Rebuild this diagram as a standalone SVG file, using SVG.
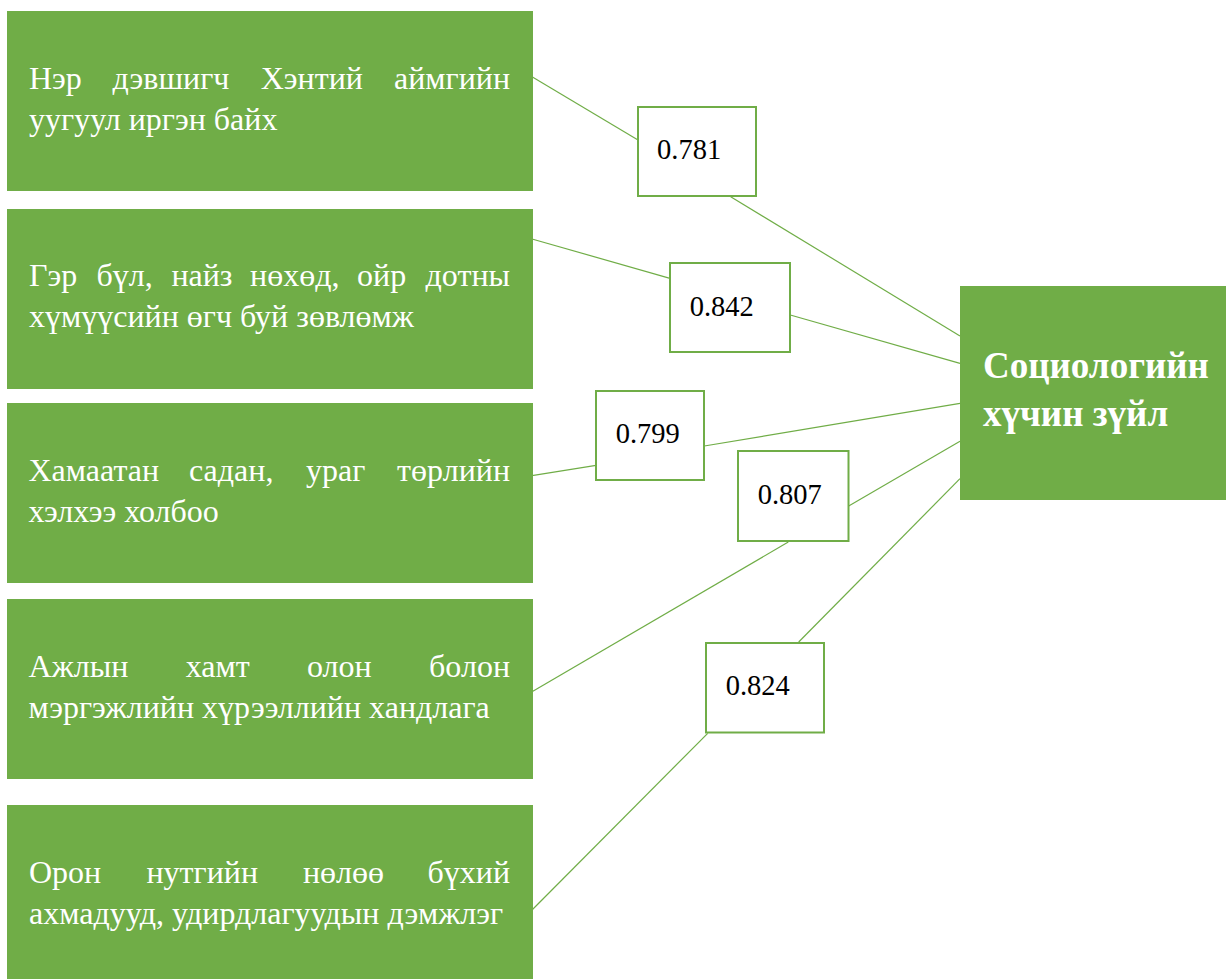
<svg xmlns="http://www.w3.org/2000/svg" width="1226" height="979" viewBox="0 0 1226 979">
<style>
.src{fill:#70AD47;}
.lt{font-family:"Liberation Serif","Times New Roman",serif;font-size:32px;fill:#ffffff;}
.end{text-anchor:end;}
.val{fill:#ffffff;stroke:#70AD47;stroke-width:2;}
.vt{font-family:"Liberation Serif","Times New Roman",serif;font-size:28.5px;fill:#000000;}
.tt{font-family:"Liberation Serif","Times New Roman",serif;font-size:37px;font-weight:bold;fill:#ffffff;}
.con line{stroke:#70AD47;stroke-width:1.2;fill:none;}
</style>
<rect width="1226" height="979" fill="#ffffff"/>
<g id="connectors" class="con">
<line x1="532" y1="76.7" x2="638" y2="140"/>
<line x1="730.7" y1="196.7" x2="960" y2="336"/>
<line x1="532" y1="239" x2="670" y2="278.3"/>
<line x1="790.3" y1="315" x2="960" y2="363.3"/>
<line x1="532" y1="475.7" x2="596" y2="465.3"/>
<line x1="704.3" y1="446" x2="960" y2="403.3"/>
<line x1="960" y1="441.3" x2="848.7" y2="506"/>
<line x1="788.3" y1="542" x2="532" y2="691.7"/>
<line x1="960" y1="478.7" x2="798.7" y2="642"/>
<line x1="707.7" y1="733.3" x2="532" y2="910"/>
</g>
<g id="node1">
<rect class="src" x="7" y="11" width="526" height="180"/>
<text class="lt" y="89"><tspan x="29">Нэр</tspan><tspan x="112.5">дэвшигч</tspan><tspan x="260.7">Хэнтий</tspan><tspan x="510" class="end">аймгийн</tspan></text>
<text class="lt" x="29" y="130">уугуул иргэн байх</text>
</g>
<g id="node2">
<rect class="src" x="7" y="209" width="526" height="180"/>
<text class="lt" y="286"><tspan x="29">Гэр</tspan><tspan x="96.4">бүл,</tspan><tspan x="171.4">найз</tspan><tspan x="250">нөхөд,</tspan><tspan x="357">ойр</tspan><tspan x="510" class="end">дотны</tspan></text>
<text class="lt" x="29" y="327">хүмүүсийн өгч буй зөвлөмж</text>
</g>
<g id="node3">
<rect class="src" x="7" y="403" width="526" height="180"/>
<text class="lt" y="481"><tspan x="28.5">Хамаатан</tspan><tspan x="189">садан,</tspan><tspan x="306">ураг</tspan><tspan x="510" class="end">төрлийн</tspan></text>
<text class="lt" x="28.5" y="522">хэлхээ холбоо</text>
</g>
<g id="node4">
<rect class="src" x="7" y="599" width="526" height="180"/>
<text class="lt" y="677"><tspan x="28.6">Ажлын</tspan><tspan x="185.7">хамт</tspan><tspan x="307">олон</tspan><tspan x="510" class="end">болон</tspan></text>
<text class="lt" x="28.6" y="718">мэргэжлийн хүрээллийн хандлага</text>
</g>
<g id="node5">
<rect class="src" x="7" y="805" width="526" height="180"/>
<text class="lt" y="883"><tspan x="29">Орон</tspan><tspan x="146.4">нутгийн</tspan><tspan x="302.9">нөлөө</tspan><tspan x="510" class="end">бүхий</tspan></text>
<text class="lt" x="29" y="924">ахмадууд, удирдлагуудын дэмжлэг</text>
</g>
<g id="v781">
<rect class="val" x="638" y="107" width="118" height="89"/>
<text class="vt" x="657" y="159">0.781</text>
</g>
<g id="v842">
<rect class="val" x="670" y="263" width="120" height="89"/>
<text class="vt" x="689.7" y="315.7">0.842</text>
</g>
<g id="v799">
<rect class="val" x="596" y="391" width="108" height="89"/>
<text class="vt" x="615.7" y="443.3">0.799</text>
</g>
<g id="v807">
<rect class="val" x="738" y="451" width="110.5" height="90"/>
<text class="vt" x="757.7" y="504">0.807</text>
</g>
<g id="v824">
<rect class="val" x="706" y="643" width="118" height="89.5"/>
<text class="vt" x="725.7" y="695">0.824</text>
</g>
<g id="target">
<rect class="src" x="960" y="286" width="270" height="214"/>
<text class="tt" x="983" y="378">Социологийн</text>
<text class="tt" x="983" y="426">хүчин зүйл</text>
</g>
</svg>
